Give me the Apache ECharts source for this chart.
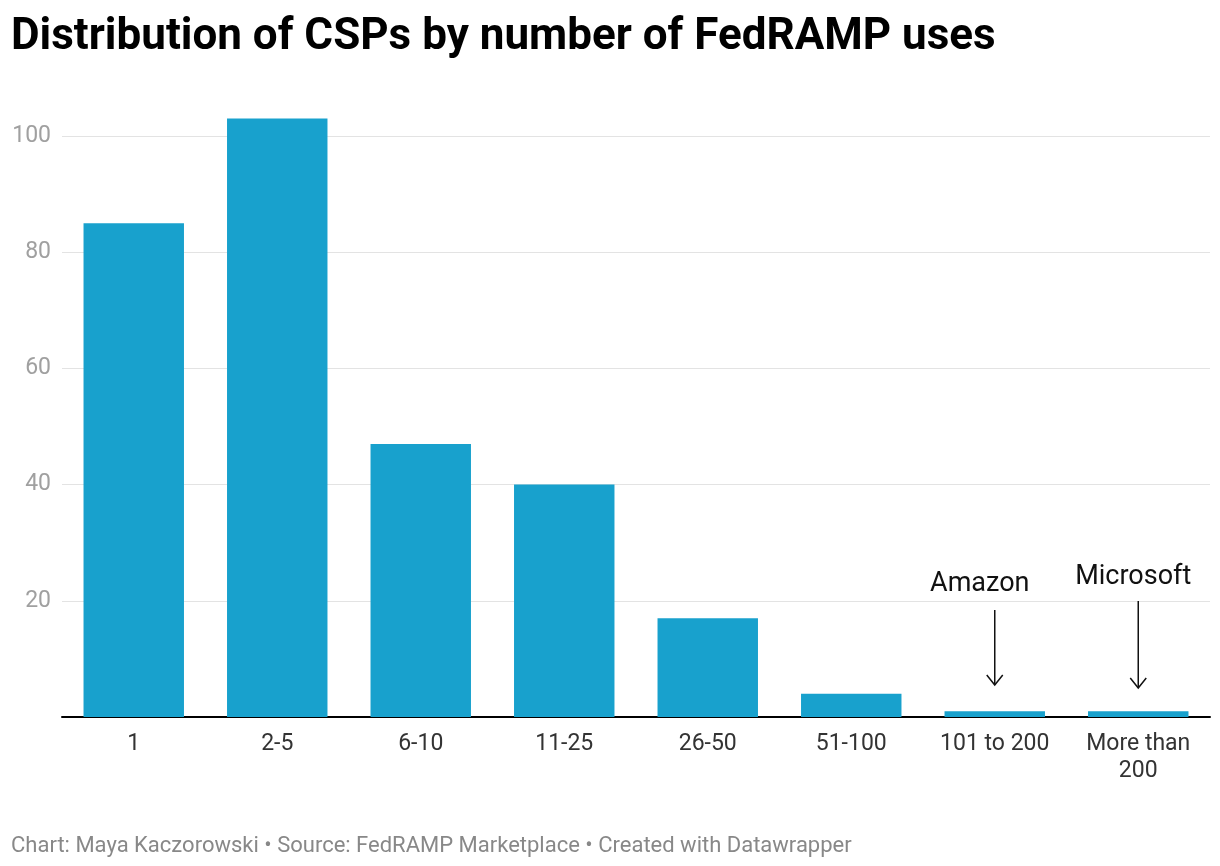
<!DOCTYPE html>
<html><head><meta charset="utf-8">
<script src="https://cdn.jsdelivr.net/npm/echarts@6/dist/echarts.min.js"></script>
<style>html,body{margin:0;padding:0;background:#fff}#c{width:1220px;height:866px}</style>
</head><body><div id="c"></div>
<script>
const categories = ['1','2-5','6-10','11-25','26-50','51-100','101 to 200','More than\n200'];
const values = [85, 103, 47, 40, 17, 4, 1, 1];
const yTicks = [0, 20, 40, 60, 80, 100];
const annotations = [
  {cat: '101 to 200', label: 'Amazon'},
  {cat: 'More than\n200', label: 'Microsoft'}
];
const chart = echarts.init(document.getElementById('c'));
const font = 'Roboto, "Noto Sans", sans-serif';
chart.setOption({
  animation: false,
  textStyle: {fontFamily: font},
  title: [{
    text: 'Distribution of CSPs by number of FedRAMP uses',
    left: 6, top: 11,
    textStyle: {fontSize: 44, fontWeight: 'bold', color: '#000', fontFamily: font}
  }, {
    text: 'Chart: Maya Kaczorowski • Source: FedRAMP Marketplace • Created with Datawrapper',
    left: 6, top: 830,
    textStyle: {fontSize: 22, fontWeight: 'normal', color: '#888', fontFamily: font}
  }],
  grid: {left: 62, right: 10, top: 136, bottom: 149, containLabel: false},
  xAxis: {
    type: 'category', data: categories,
    axisLine: {lineStyle: {color: '#000', width: 2}},
    axisTick: {show: false},
    axisLabel: {fontSize: 23, color: '#333', margin: 14, lineHeight: 27, fontFamily: font}
  },
  yAxis: {
    type: 'value', min: yTicks[0], max: yTicks[yTicks.length - 1], interval: 20,
    axisLine: {show: false}, axisTick: {show: false},
    splitLine: {lineStyle: {color: '#e3e3e3', width: 1}},
    axisLabel: {fontSize: 23, color: '#a0a0a0', margin: 11, fontFamily: font,
      formatter: v => v === 0 ? '' : String(v)}
  },
  series: [{
    type: 'bar', data: values, barWidth: '70%', clip: false,
    itemStyle: {color: '#18a1cd'}
  }]
});
function drawAnnotations() {
  const g = [];
  annotations.forEach(a => {
    const p = chart.convertToPixel({xAxisIndex: 0, yAxisIndex: 0}, [a.cat, 0]);
    const x = p[0];
    const isMs = a.label === 'Microsoft';
    const textY = isMs ? 577 : 584;
    const textX = isMs ? x - 5 : x - 15;
    const y1 = isMs ? 601 : 610;
    const y2 = isMs ? 688 : 685;
    g.push({type: 'text', x: textX, y: textY,
      style: {text: a.label, fontSize: 27, fill: '#111', fontFamily: font, align: 'center', verticalAlign: 'middle'}});
    g.push({type: 'line', shape: {x1: x, y1: y1, x2: x, y2: y2}, style: {stroke: '#111', lineWidth: 1.5}});
    g.push({type: 'polyline', shape: {points: [[x - 8, y2 - 10], [x, y2], [x + 8, y2 - 10]]}, style: {stroke: '#111', lineWidth: 1.5, fill: null}});
  });
  chart.setOption({graphic: g});
}
drawAnnotations();
</script></body></html>
